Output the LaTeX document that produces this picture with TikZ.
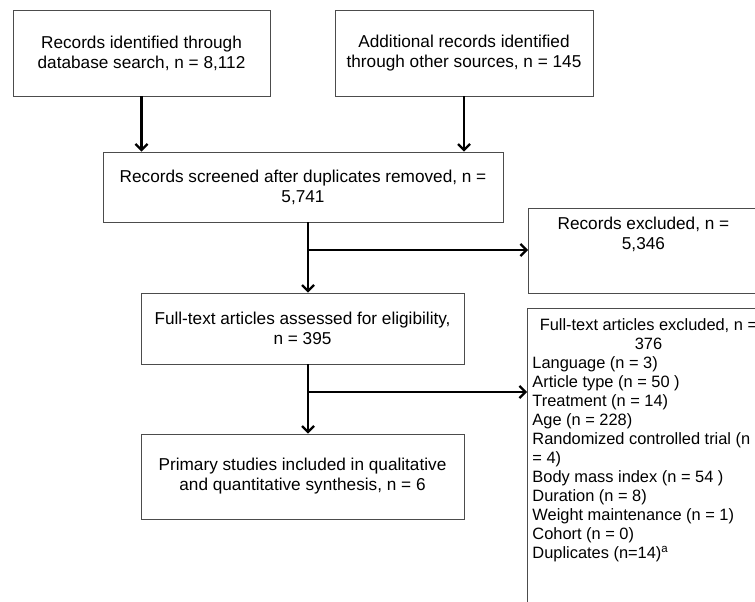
\documentclass[tikz,border=0pt]{standalone}
\usepackage{fontspec}
\setmainfont{Liberation Sans}
\usetikzlibrary{arrows.meta,calc}

\tikzset{
  box/.style={draw=black!70, line width=0.9pt, inner sep=0pt, align=center,
    font=\fontsize{17.2}{20}\selectfont},
  arr/.style={line width=2.2pt, -{Straight Barb[length=6pt,width=12pt]}}
}

\begin{document}
\begin{tikzpicture}[x=1pt,y=-1pt]
\useasboundingbox (0,0) rectangle (755,602);

% Identification
\node[box, minimum width=257pt, minimum height=86pt] (db) at (141.5,53)
  {Records identified through\\database search, n = 8,112};
\node[box, minimum width=258pt, minimum height=86pt] (other) at (464,53)
  {Additional records identified\\through other sources, n = 145};

% Screening
\node[box, minimum width=400pt, minimum height=70pt] (screen) at (303,187)
  {Records screened after duplicates removed, n =\\5,741};
\node[box, anchor=north west] (recex) at (528,208)
  {\parbox[c][85pt][t]{230pt}{\centering\vspace*{9pt}Records excluded, n =\\5,346}};

% Eligibility
\node[box, minimum width=323pt, minimum height=71pt] (full) at (302.5,328.5)
  {Full-text articles assessed for eligibility,\\n = 395};
\node[box, anchor=north west, font=\fontsize{16.4}{19}\selectfont] (ftex) at (527,308)
  {\hspace*{5pt}\parbox[c][312pt][t]{232pt}{\vspace*{10pt}%
   {\centering Full-text articles excluded, n =\\376\par}\raggedright
   Language (n = 3)\\
   Article type (n = 50 )\\
   Treatment (n = 14)\\
   Age (n = 228)\\
   Randomized controlled trial (n\\
   = 4)\\
   Body mass index (n = 54 )\\
   Duration (n = 8)\\
   Weight maintenance (n = 1)\\
   Cohort (n = 0)\\
   Duplicates (n=14)\textsuperscript{a}}\hspace*{5pt}};

% Included
\node[box, minimum width=323pt, minimum height=85pt] (incl) at (302.5,476.5)
  {Primary studies included in qualitative\\and quantitative synthesis, n = 6};

% Arrows
\draw[arr] (db.south) -- (db.south |- screen.north);
\draw[arr] (other.south) -- (other.south |- screen.north);
\coordinate (j1) at (308,250);
\draw[arr] (screen.south -| j1) -- (full.north -| j1);
\draw[arr] (j1) -- (j1 -| recex.west);
\coordinate (j2) at (308,392);
\draw[arr] (full.south -| j2) -- (incl.north -| j2);
\draw[arr] (j2) -- (j2 -| ftex.west);
\end{tikzpicture}
\end{document}
